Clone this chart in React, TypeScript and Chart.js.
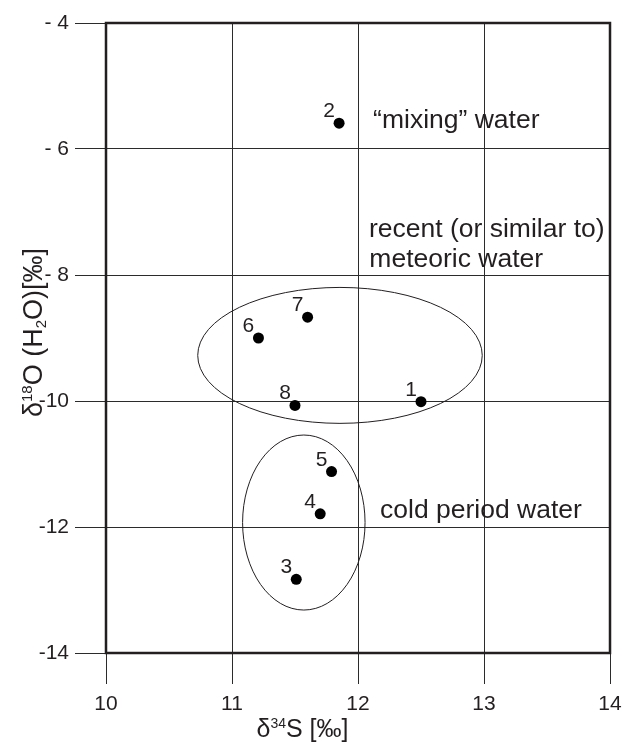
import React, { useEffect, useRef } from "react";
import { Chart, registerables } from "chart.js";

Chart.register(...registerables);

// ---- data ----
const sampleIds = ["1", "2", "3", "4", "5", "6", "7", "8"];
const d34S = [12.5, 11.85, 11.51, 11.7, 11.79, 11.21, 11.6, 11.5];
const d18O = [-10.01, -5.59, -12.83, -11.79, -11.12, -9.0, -8.67, -10.07];

const xTicks = [10, 11, 12, 13, 14];
const yTicks = [-4, -6, -8, -10, -12, -14];
const yTickText = ["- 4", "- 6", "- 8", "-10", "-12", "-14"];

// grouping ellipses (centre and half-axes in data units)
const groupCx = [11.857, 11.57];
const groupCy = [-9.276, -11.929];
const groupRx = [1.129, 0.486];
const groupRy = [1.079, 1.389];

// annotations (anchored in data units: left edge / baseline)
const noteText = ["\u201Cmixing\u201D water", "recent (or similar to)", "meteoric water", "cold period water"];
const noteX = [12.12, 12.087, 12.09, 12.175];
const noteY = [-5.67, -7.4, -7.87, -11.85];

const FONT = '"Liberation Sans", Arial, Helvetica, sans-serif';
const INK = "#231f20";

function drawParts(ctx: CanvasRenderingContext2D, parts: { t: string; size: number; dy: number }[], cx: number, baseY: number) {
  let total = 0;
  for (const p of parts) {
    ctx.font = `${p.size}px ${FONT}`;
    total += ctx.measureText(p.t).width;
  }
  let x = cx - total / 2;
  ctx.textAlign = "left";
  ctx.textBaseline = "alphabetic";
  for (const p of parts) {
    ctx.font = `${p.size}px ${FONT}`;
    ctx.fillText(p.t, x, baseY + p.dy);
    x += ctx.measureText(p.t).width;
  }
}

const overlay = {
  id: "overlay",
  afterDatasetsDraw(chart: any) {
    const { ctx, chartArea } = chart;
    const xs = chart.scales.x;
    const ys = chart.scales.y;
    ctx.save();

    // ellipses
    ctx.strokeStyle = INK;
    ctx.lineWidth = 1;
    for (let i = 0; i < groupCx.length; i++) {
      const cx = xs.getPixelForValue(groupCx[i]);
      const cy = ys.getPixelForValue(groupCy[i]);
      const rx = Math.abs(xs.getPixelForValue(groupCx[i] + groupRx[i]) - cx);
      const ry = Math.abs(ys.getPixelForValue(groupCy[i] + groupRy[i]) - cy);
      ctx.beginPath();
      ctx.ellipse(cx, cy, rx, ry, 0, 0, Math.PI * 2);
      ctx.stroke();
    }

    // point labels
    ctx.fillStyle = INK;
    ctx.font = `21px ${FONT}`;
    ctx.textAlign = "center";
    ctx.textBaseline = "alphabetic";
    for (let i = 0; i < sampleIds.length; i++) {
      const px = xs.getPixelForValue(d34S[i]);
      const py = ys.getPixelForValue(d18O[i]);
      ctx.fillText(sampleIds[i], px - 10, py - 6);
    }

    // notes
    ctx.font = `26.5px ${FONT}`;
    ctx.textAlign = "left";
    for (let i = 0; i < noteText.length; i++) {
      ctx.fillText(noteText[i], xs.getPixelForValue(noteX[i]), ys.getPixelForValue(noteY[i]));
    }

    // frame
    ctx.strokeStyle = INK;
    ctx.lineWidth = 2.5;
    ctx.strokeRect(chartArea.left, chartArea.top, chartArea.right - chartArea.left, chartArea.bottom - chartArea.top);

    // x title
    drawParts(
      ctx,
      [
        { t: "\u03B4", size: 25, dy: 0 },
        { t: "34", size: 14, dy: -9 },
        { t: "S [\u2030]", size: 25, dy: 0 },
      ],
      302.5,
      737
    );

    // y title
    ctx.translate(42, 332.5);
    ctx.rotate(-Math.PI / 2);
    drawParts(
      ctx,
      [
        { t: "\u03B4", size: 27, dy: 0 },
        { t: "18", size: 15, dy: -10 },
        { t: "O (H", size: 27, dy: 0 },
        { t: "2", size: 15, dy: 4 },
        { t: "O)[\u2030]", size: 27, dy: 0 },
      ],
      0,
      0
    );
    ctx.restore();
  },
};

export default function App() {
  const ref = useRef<HTMLCanvasElement>(null);

  useEffect(() => {
    if (!ref.current) return;
    const chart = new Chart(ref.current, {
      type: "scatter",
      data: {
        datasets: [
          {
            data: d34S.map((x, i) => ({ x, y: d18O[i] })),
            backgroundColor: "#000",
            borderWidth: 0,
            pointRadius: 5.5,
            pointHoverRadius: 5.5,
          },
        ],
      },
      options: {
        responsive: false,
        animation: false,
        devicePixelRatio: 1,
        layout: { padding: { top: 23, right: 13, left: 0, bottom: 0 } },
        plugins: { legend: { display: false }, tooltip: { enabled: false }, title: { display: false } },
        scales: {
          x: {
            type: "linear",
            min: 10,
            max: 14,
            afterBuildTicks: (s: any) => {
              s.ticks = xTicks.map((v) => ({ value: v }));
            },
            afterFit: (s: any) => {
              s.height = 89;
              s.paddingLeft = 0;
              s.paddingRight = 0;
            },
            grid: { color: "#2b2b2b", lineWidth: 1, tickLength: 31, drawTicks: true },
            border: { display: false },
            ticks: {
              font: { family: FONT, size: 21 },
              color: INK,
              padding: 8,
              maxRotation: 0,
              callback: (v: any) => String(v),
            },
          },
          y: {
            type: "linear",
            min: -14,
            max: -4,
            afterBuildTicks: (s: any) => {
              s.ticks = yTicks.map((v) => ({ value: v }));
            },
            afterFit: (s: any) => {
              s.width = 106;
              s.paddingTop = 0;
              s.paddingBottom = 0;
            },
            grid: { color: "#2b2b2b", lineWidth: 1, tickLength: 31, drawTicks: true },
            border: { display: false },
            ticks: {
              font: { family: FONT, size: 21 },
              color: INK,
              padding: 6,
              callback: (v: any) => {
                const i = yTicks.indexOf(Number(v));
                return i >= 0 ? yTickText[i] : "";
              },
            },
          },
        },
      } as any,
      plugins: [overlay],
    });
    return () => chart.destroy();
  }, []);

  return (
    <div style={{ position: "fixed", left: 0, top: 0, width: 623, height: 742, background: "#fff" }}>
      <canvas ref={ref} width={623} height={742} style={{ display: "block" }} />
    </div>
  );
}
